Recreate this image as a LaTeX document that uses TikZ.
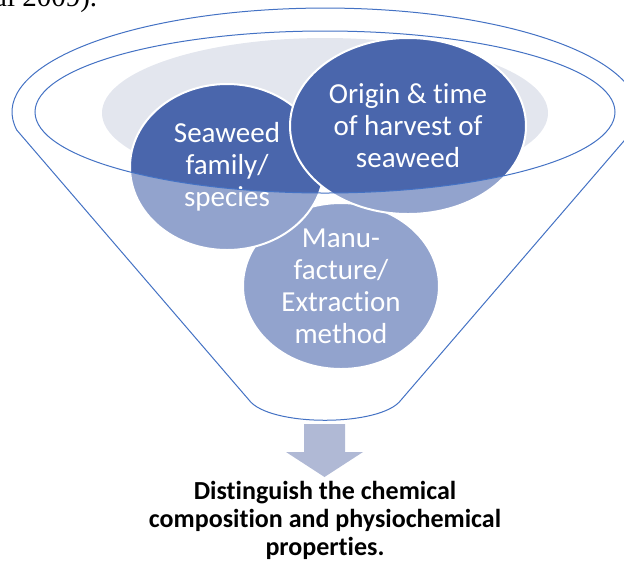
\documentclass[tikz,border=0pt]{standalone}
\usepackage{fontspec}
\setmainfont{Carlito}[Ligatures=NoCommon]
\newfontfamily\bodyserif{Liberation Serif}
\usetikzlibrary{shapes.geometric}
\definecolor{FunnelBlue}{HTML}{4A66AC}
\definecolor{RimBlue}{HTML}{4472C4}
\definecolor{TrayGray}{HTML}{E3E6EE}
\definecolor{ArrowBlue}{HTML}{B0B9D5}
\newlength{\pxu}
\setlength{\pxu}{0.75pt}

\begin{document}
\begin{tikzpicture}[
  x=0.75pt,
  y=-0.75pt,
  blob/.style={ellipse,fill=FunnelBlue,draw=white,line width=2\pxu,inner sep=0},
  blob text/.style={text=white,align=center,inner sep=0,font=\fontsize{21.75}{24}\selectfont},
  tray/.style={ellipse,fill=TrayGray,inner sep=0},
  funnel/.style={draw=RimBlue,line width=1\pxu,fill=white,fill opacity=0.4,draw opacity=1,even odd rule},
  result/.style={align=center,inner sep=0,font=\bfseries\fontsize{19.5}{21}\selectfont},
  cite/.style={anchor=base east,inner sep=0,font=\bodyserif\fontsize{21.75}{24}\selectfont}
]
  \useasboundingbox (0,0) rectangle (624,562);
  \clip (0,0) rectangle (624,562);

  \node[cite] (cite) at (97.5,6.5) {al 2009).};

  \node[tray,minimum width=446\pxu,minimum height=150\pxu] (tray) at (325,113) {};
  \node[blob,minimum width=196\pxu,minimum height=166\pxu] (method) at (341,286) {};
  \node[blob,minimum width=194\pxu,minimum height=166\pxu] (species) at (227,167) {};
  \node[blob,minimum width=236\pxu,minimum height=176\pxu] (origin) at (408,126) {};
  \node[blob text] (methodtxt) at (method.center) {Manu-\\facture/\\Extraction\\method};
  \node[blob text] (speciestxt) at (species.center) {Seaweed\\family/\\species};
  \node[blob text] (origintxt) at (origin.center) {Origin \& time\\of harvest of\\seaweed};

  \coordinate (rimL) at (16.8,130.1);
  \coordinate (botR) at (401,400);
  \coordinate (botL) at (249,400);
  \path[funnel] (rimL) arc[start angle=170,end angle=370,x radius=313,y radius=104]
    -- (botR) .. controls (381,427) and (269,427) .. (botL) -- cycle
    (325,112) ellipse[x radius=290,y radius=81];

  \fill[ArrowBlue] (304,424) -- (345,424) -- (345,452) -- (363,452) -- (324.5,477)
    -- (286,452) -- (304,452) -- cycle;

  \node[result] (goal) at (325,520) {Distinguish the chemical\\composition and physiochemical\\properties.};
\end{tikzpicture}
\end{document}
